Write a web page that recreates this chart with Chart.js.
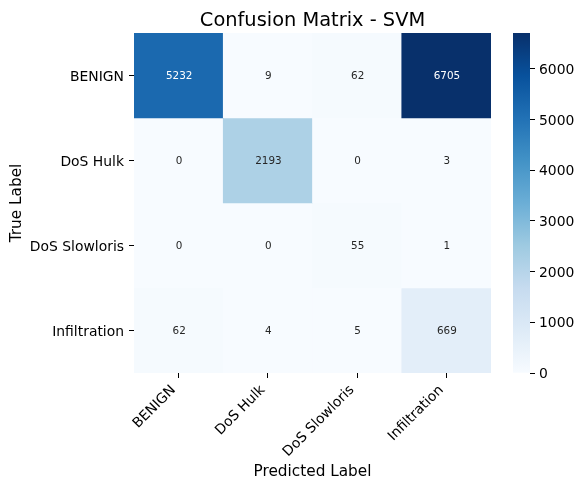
<!DOCTYPE html>
<html>
<head>
<meta charset="utf-8">
<title>Confusion Matrix - SVM</title>
<script src="https://cdn.jsdelivr.net/npm/chart.js@4"></script>
<style>
    html, body { margin: 0; padding: 0; background: #fff; }
    #wrap { position: relative; width: 584px; height: 490px; overflow: hidden; }
    canvas { position: absolute; top: 0; }
    #matrix { left: 0; }
    #colorbar { left: 491px; }
</style>
</head>
<body>
<div id="wrap">
    <canvas id="matrix" width="584" height="490"></canvas>
    <canvas id="colorbar" width="93" height="490"></canvas>
</div>
<script>
'use strict';

// ── Data ───────────────────────────────────────────────────
const classLabels = ['BENIGN', 'DoS Hulk', 'DoS Slowloris', 'Infiltration'];
const benignRow = [5232, 9, 62, 6705];
const hulkRow = [0, 2193, 0, 3];
const slowlorisRow = [0, 0, 55, 1];
const infiltrationRow = [62, 4, 5, 669];
const rows = [benignRow, hulkRow, slowlorisRow, infiltrationRow];
const colorbarTicks = [0, 1000, 2000, 3000, 4000, 5000, 6000];
const colorMax = 6705;

// matplotlib "Blues"
const blues = ['#f7fbff', '#deebf7', '#c6dbef', '#9ecae1', '#6baed6', '#4292c6', '#2171b5', '#08519c', '#08306b'];

// ── Helpers ────────────────────────────────────────────────
const FONT = "'DejaVu Sans', sans-serif";
Chart.defaults.font.family = FONT;
Chart.defaults.color = '#000';

function hexToRgb(hex) {
    return [1, 3, 5].map(i => parseInt(hex.slice(i, i + 2), 16));
}

function cellColor(v) {
    const pos = Math.min(v / colorMax, 1) * (blues.length - 1);
    const i = Math.min(Math.floor(pos), blues.length - 2);
    const t = pos - i;
    const a = hexToRgb(blues[i]);
    const b = hexToRgb(blues[i + 1]);
    const mix = a.map((c, k) => Math.round(c + (b[k] - c) * t));
    return `rgb(${mix.join(',')})`;
}

// ── Cell annotations ───────────────────────────────────────
const cellLabels = {
    id: 'cellLabels',
    afterDatasetsDraw(chart) {
        const { ctx } = chart;
        ctx.save();
        ctx.font = `10.4px ${FONT}`;
        ctx.textAlign = 'center';
        ctx.textBaseline = 'middle';
        rows.forEach((row, r) => {
            const bars = chart.getDatasetMeta(r).data;
            row.forEach((v, c) => {
                const bar = bars[c];
                ctx.fillStyle = v / colorMax > 0.6 ? '#fff' : '#262626';
                ctx.fillText(String(v), bar.x + 0.5, (bar.y + bar.base) / 2 + 1);
            });
        });
        ctx.restore();
    },
};

// ── Heatmap ────────────────────────────────────────────────
new Chart(document.getElementById('matrix'), {
    type: 'bar',
    data: {
        labels: classLabels,
        datasets: rows.map((row, r) => ({
            label: classLabels[r],
            data: row.map(() => [r, r + 1]),
            backgroundColor: row.map(cellColor),
            borderWidth: 0,
            barPercentage: 1,
            categoryPercentage: 1,
            grouped: false,
        })),
    },
    options: {
        responsive: false,
        animation: false,
        devicePixelRatio: 1,
        layout: { padding: { top: 0, right: 93, bottom: 0, left: 0 } },
        plugins: {
            legend: { display: false },
            tooltip: { enabled: false },
            title: {
                display: true,
                text: 'Confusion Matrix - SVM',
                fullSize: false,
                font: { size: 19.4, weight: 'normal' },
                color: '#000',
                padding: { top: 9, bottom: 0.7 },
            },
        },
        scales: {
            x: {
                type: 'category',
                offset: true,
                afterFit: s => { s.height = 117; },
                grid: { offset: false, drawOnChartArea: false, drawTicks: true, tickLength: 5, tickColor: '#000' },
                border: { display: false },
                ticks: { autoSkip: false, maxRotation: 45, minRotation: 45, font: { size: 13.9 }, padding: 4, labelOffset: -5 },
                title: {
                    display: true,
                    text: 'Predicted Label',
                    font: { size: 15.3 },
                    padding: { top: 0, bottom: 9 },
                },
            },
            y: {
                type: 'linear',
                reverse: true,
                min: 0,
                max: rows.length,
                afterFit: s => { s.width = 134; },
                afterBuildTicks: s => { s.ticks = classLabels.map((_, i) => ({ value: i + 0.5 })); },
                grid: { drawOnChartArea: false, drawTicks: true, tickLength: 5, tickColor: '#000' },
                border: { display: false },
                ticks: {
                    autoSkip: false,
                    font: { size: 13.9 },
                    padding: 5,
                    labelOffset: 1.5,
                    callback: v => classLabels[Math.floor(v)],
                },
                title: {
                    display: true,
                    text: 'True Label',
                    font: { size: 15.3 },
                    padding: { top: 8, bottom: 0 },
                },
            },
        },
    },
    plugins: [cellLabels],
});

// ── Colorbar ───────────────────────────────────────────────
function colorbarFill(ctx) {
    const { chart } = ctx;
    const area = chart.chartArea;
    if (!area) return blues[0];
    const grad = chart.ctx.createLinearGradient(0, area.bottom, 0, area.top);
    blues.forEach((c, i) => grad.addColorStop(i / (blues.length - 1), c));
    return grad;
}

new Chart(document.getElementById('colorbar'), {
    type: 'bar',
    data: {
        labels: ['scale'],
        datasets: [{
            data: [[0, colorMax]],
            backgroundColor: colorbarFill,
            borderWidth: 0,
            barPercentage: 1,
            categoryPercentage: 1,
        }],
    },
    options: {
        responsive: false,
        animation: false,
        devicePixelRatio: 1,
        layout: { padding: { top: 33, right: 0, bottom: 117, left: 22 } },
        plugins: { legend: { display: false }, tooltip: { enabled: false } },
        scales: {
            x: { display: false },
            y: {
                position: 'right',
                min: 0,
                max: colorMax,
                afterFit: s => { s.width = 54; },
                afterBuildTicks: s => { s.ticks = colorbarTicks.map(v => ({ value: v })); },
                grid: { drawOnChartArea: false, drawTicks: true, tickLength: 5, tickColor: '#000' },
                border: { display: false },
                ticks: { font: { size: 13.9 }, padding: 4, labelOffset: 1.5, callback: v => String(v) },
            },
        },
    },
});
</script>
</body>
</html>
